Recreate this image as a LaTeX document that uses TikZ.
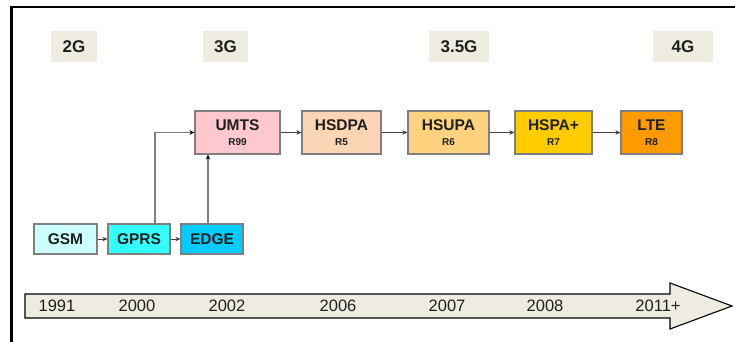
\documentclass[tikz,border=0pt]{standalone}
\usepackage{fontspec}
\setmainfont{Liberation Sans}
\usetikzlibrary{arrows.meta}

\definecolor{gentag}{HTML}{EEECE1}
\definecolor{boxline}{HTML}{7F7F7F}
\definecolor{txt}{HTML}{1F1F1F}
\definecolor{cGSM}{HTML}{CCFFFF}
\definecolor{cGPRS}{HTML}{33FFFF}
\definecolor{cEDGE}{HTML}{00CCFF}
\definecolor{cUMTS}{HTML}{FFC7CE}
\definecolor{cHSDPA}{HTML}{FCD5B4}
\definecolor{cHSUPA}{HTML}{FFD27F}
\definecolor{cHSPAP}{HTML}{FFCC00}
\definecolor{cLTE}{HTML}{FF9A00}

\tikzset{
  gen/.style={fill=gentag, inner sep=0pt, minimum height=31pt, text=txt,
    font=\fontsize{17}{19}\selectfont\bfseries},
  techbox/.style={draw=boxline, line width=1.2pt, inner sep=0pt, text=txt,
    align=center, font=\fontsize{15.5}{16}\selectfont\bfseries},
  topbox/.style={techbox, minimum height=43pt},
  lowbox/.style={techbox, minimum height=30pt},
  conn/.style={draw=black!75, line width=0.9pt, -{Stealth[length=5pt,width=4.5pt]}},
  riser/.style={draw=boxline, line width=1.2pt, -{Stealth[length=5pt,width=4.5pt,black]}},
  year/.style={text=txt, font=\fontsize{16.5}{18}\selectfont}
}

\begin{document}
\begin{tikzpicture}[x=1pt, y=-1pt]
\useasboundingbox (0,0) rectangle (735,342);

% frame
\draw[line width=2.7pt, line join=miter] (11.3,342) -- (11.3,7) -- (735,7);

% generation tags
\node[gen, minimum width=46pt] (g2)  at (74,46.5)  {2G};
\node[gen, minimum width=45pt] (g3)  at (225.5,46.5) {3G};
\node[gen, minimum width=60pt] (g35) at (459,46.5) {3.5G};
\node[gen, minimum width=60pt] (g4)  at (683,46.5) {4G};

% 3GPP releases
\node[topbox, fill=cUMTS,  minimum width=85pt] (umts)  at (237.5,132.5) {UMTS\\[-1pt]{\fontsize{10}{10}\selectfont R99}};
\node[topbox, fill=cHSDPA, minimum width=79pt] (hsdpa) at (341.5,132.5) {HSDPA\\[-1pt]{\fontsize{10}{10}\selectfont R5}};
\node[topbox, fill=cHSUPA, minimum width=81pt] (hsupa) at (448.5,132.5) {HSUPA\\[-1pt]{\fontsize{10}{10}\selectfont R6}};
\node[topbox, fill=cHSPAP, minimum width=77pt] (hspap) at (553.5,132.5) {HSPA+\\[-1pt]{\fontsize{10}{10}\selectfont R7}};
\node[topbox, fill=cLTE,   minimum width=61pt] (lte)   at (651.5,132.5) {LTE\\[-1pt]{\fontsize{10}{10}\selectfont R8}};

% 2G technologies
\node[lowbox, fill=cGSM,  minimum width=63pt] (gsm)  at (65.5,239) {GSM};
\node[lowbox, fill=cGPRS, minimum width=62pt] (gprs) at (139,239)  {GPRS};
\node[lowbox, fill=cEDGE, minimum width=62pt] (edge) at (212,239)  {EDGE};

% evolution paths
\draw[conn] (gsm) -- (gprs);
\draw[conn] (gprs) -- (edge);
\draw[riser] ([xshift=16pt]gprs.north) |- (umts.west);
\draw[riser] ([xshift=-4pt]edge.north) -- ([xshift=-4pt]edge.north |- umts.south);
\draw[conn] (umts) -- (hsdpa);
\draw[conn] (hsdpa) -- (hsupa);
\draw[conn] (hsupa) -- (hspap);
\draw[conn] (hspap) -- (lte);

% timeline
\draw[fill=gentag, line width=1.1pt, line join=miter]
  (25,294) -- (670,294) -- (670,283) -- (732,306) -- (670,329) -- (670,318) -- (25,318) -- cycle;
\node[year] (y1991) at (57,306)  {1991};
\node[year] (y2000) at (137,306) {2000};
\node[year] (y2002) at (227,306) {2002};
\node[year] (y2006) at (338,306) {2006};
\node[year] (y2007) at (447,306) {2007};
\node[year] (y2008) at (545,306) {2008};
\node[year] (y2011) at (658,306) {2011+};
\end{tikzpicture}
\end{document}
